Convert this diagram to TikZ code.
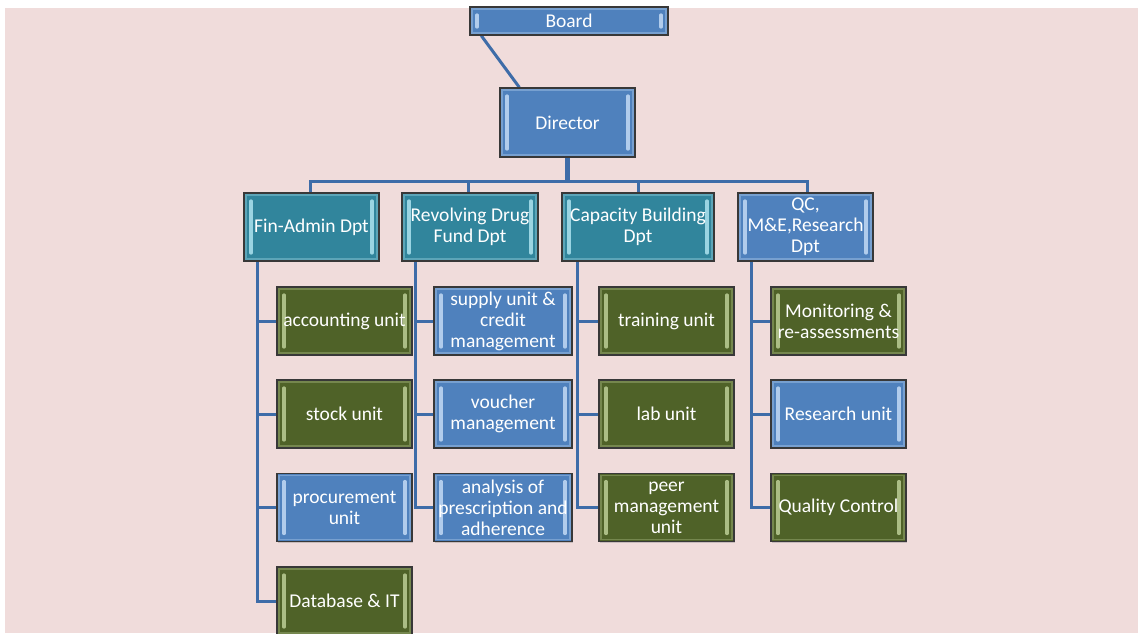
\documentclass[tikz,border=0pt]{standalone}
\usepackage{fontspec}
\setmainfont{Carlito}
\usetikzlibrary{shadows,backgrounds}
\definecolor{bgpink}{HTML}{F0DCDB}
\definecolor{cblue}{HTML}{4F81BD}
\definecolor{hblue}{HTML}{C3DAF5}
\definecolor{cteal}{HTML}{31859C}
\definecolor{hteal}{HTML}{ADE3EF}
\definecolor{colive}{HTML}{4F6228}
\definecolor{holive}{HTML}{BCCE96}
\definecolor{cline}{RGB}{62,108,168}
\pgfdeclarelayer{bgrect}
\pgfsetlayers{bgrect,background,main}
\tikzset{
  box/.style={rectangle, inner sep=0pt, draw=black!78, line width=1.4pt,
    text=white, align=center, font=\fontsize{19.5}{21}\selectfont,
    drop shadow={shadow xshift=1.2pt, shadow yshift=-1.2pt, opacity=0.35},
    path picture={
      \draw[line width=1.6pt, #1, opacity=0.35]
        ([xshift=2pt,yshift=-2pt]path picture bounding box.north west) rectangle
        ([xshift=-2pt,yshift=2pt]path picture bounding box.south east);
      \draw[line width=3.2pt, line cap=round, #1, opacity=0.85]
        ([xshift=7pt,yshift=-8pt]path picture bounding box.north west) --
        ([xshift=7pt,yshift=8pt]path picture bounding box.south west);
      \draw[line width=3.2pt, line cap=round, #1, opacity=0.85]
        ([xshift=-7pt,yshift=-8pt]path picture bounding box.north east) --
        ([xshift=-7pt,yshift=8pt]path picture bounding box.south east);
    }},
  bluebox/.style={box=hblue, fill=cblue},
  tealbox/.style={box=hteal, fill=cteal},
  olivebox/.style={box=holive, fill=colive},
  unitbox/.style={minimum width=135pt, minimum height=68pt},
  conn/.style={draw=cline, line width=3pt},
}
\begin{document}
\begin{tikzpicture}[x=1pt,y=-1pt]
\useasboundingbox (0,0) rectangle (1138,633);
\begin{pgfonlayer}{bgrect}
  \fill[bgpink] (5,8) rectangle (1138,633);
\end{pgfonlayer}

% top
\node[bluebox, minimum width=198pt, minimum height=28pt] (board) at (569,21) {Board};
\node[bluebox, minimum width=135pt, minimum height=69pt] (dir) at (567.5,122.5) {Director};

% departments
\node[tealbox, minimum width=135pt, minimum height=68pt] (fin) at (311.5,227) {Fin-Admin Dpt};
\node[tealbox, minimum width=136pt, minimum height=68pt] (rev) at (470,227) {Revolving Drug\\Fund Dpt};
\node[tealbox, minimum width=152pt, minimum height=68pt] (cap) at (638,227) {Capacity Building\\Dpt};
\node[bluebox, minimum width=135pt, minimum height=68pt] (qc) at (805.5,227) {QC,\\M\&E,Research\\Dpt};

% Fin-Admin units
\node[olivebox, unitbox] (acc) at (344.5,321) {accounting unit};
\node[olivebox, unitbox] (stock) at (344.5,414) {stock unit};
\node[bluebox, unitbox] (proc) at (344.5,507.5) {procurement\\unit};
\node[olivebox, unitbox] (db) at (344.5,601) {Database \& IT};

% Revolving units
\node[bluebox, unitbox, minimum width=138pt] (sup) at (503,321) {supply unit \&\\credit\\management};
\node[bluebox, unitbox, minimum width=138pt] (vou) at (503,414) {voucher\\management};
\node[bluebox, unitbox, minimum width=138pt] (ana) at (503,507.5) {analysis of\\prescription and\\adherence};

% Capacity units
\node[olivebox, unitbox] (train) at (666.5,321) {training unit};
\node[olivebox, unitbox] (lab) at (666.5,414) {lab unit};
\node[olivebox, unitbox] (peer) at (666.5,507.5) {peer\\management\\unit};

% QC units
\node[olivebox, unitbox] (mon) at (838.5,321) {Monitoring \&\\re-assessments};
\node[bluebox, unitbox] (res) at (838.5,414) {Research unit};
\node[olivebox, unitbox] (qual) at (838.5,507.5) {Quality Control};

\begin{scope}[on background layer]
  \coordinate (bus) at (567.5,181);
  \draw[conn] ([xshift=12pt]board.south west) -- ([xshift=20pt]dir.north west);
  \draw[conn, line width=5pt] (dir.south) -- (bus);
  \draw[conn] ([xshift=-1.5pt]fin.north) |- (bus) -| ([xshift=1.5pt]qc.north);
  \draw[conn] ([xshift=-2pt]rev.north) -- ([xshift=-2pt]rev.north |- bus);
  \draw[conn] (cap.north) -- (cap.north |- bus);

  \draw[conn] ([xshift=14pt]fin.south west) |- (acc.west);
  \draw[conn] ([xshift=14pt]fin.south west) |- (stock.west);
  \draw[conn] ([xshift=14pt]fin.south west) |- (proc.west);
  \draw[conn] ([xshift=14pt]fin.south west) |- (db.west);

  \draw[conn] ([xshift=14pt]rev.south west) |- (sup.west);
  \draw[conn] ([xshift=14pt]rev.south west) |- (vou.west);
  \draw[conn] ([xshift=14pt]rev.south west) |- (ana.west);

  \draw[conn] ([xshift=16pt]cap.south west) |- (train.west);
  \draw[conn] ([xshift=16pt]cap.south west) |- (lab.west);
  \draw[conn] ([xshift=16pt]cap.south west) |- (peer.west);

  \draw[conn] ([xshift=14pt]qc.south west) |- (mon.west);
  \draw[conn] ([xshift=14pt]qc.south west) |- (res.west);
  \draw[conn] ([xshift=14pt]qc.south west) |- (qual.west);
\end{scope}
\end{tikzpicture}
\end{document}
